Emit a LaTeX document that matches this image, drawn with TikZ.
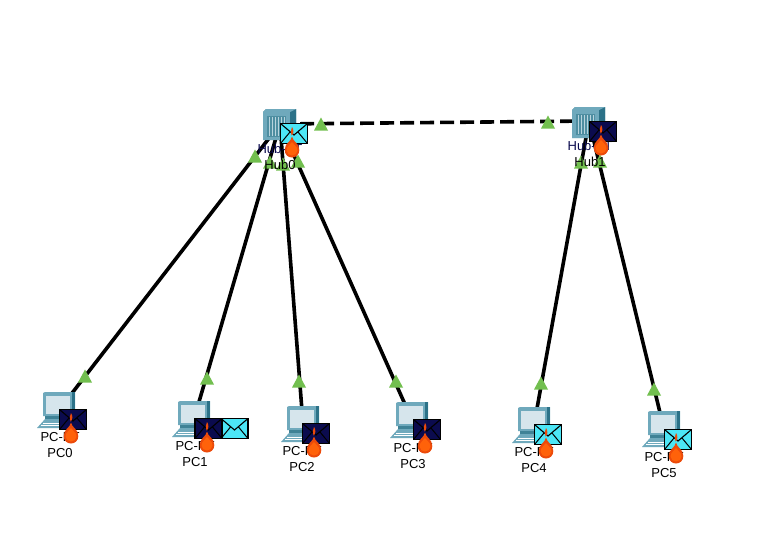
\documentclass[tikz,border=0pt]{standalone}
\usepackage{fontspec}
\setmainfont{Liberation Sans}
\definecolor{envcyan}{HTML}{4CE6F6}
\definecolor{envnavy}{HTML}{0B0B4E}
\definecolor{tri}{HTML}{72BF4F}
\definecolor{tealA}{HTML}{6FA9BC}
\definecolor{tealB}{HTML}{3F8296}
\definecolor{tealC}{HTML}{2C7288}
\definecolor{scr}{HTML}{D6E5EC}
\definecolor{flameA}{HTML}{EC4A0A}
\definecolor{flameB}{HTML}{FF620A}
\tikzset{
  x=1pt,y=-1pt,
  link/.style={line width=3.6pt,black},
  dashlink/.style={link,dash pattern=on 14pt off 6pt},
  devlabel/.style={font=\fontsize{13}{15}\selectfont,inner sep=0pt,text=black},
  anchorpt/.style={inner sep=0pt,minimum size=0pt},
  envbox/.style={draw=black,line width=1.5pt},
}
% green triangle centred on (#1,#2)
\newcommand{\Tri}[2]{\fill[tri] (#1-7,#2+6.5) -- (#1,#2-6.5) -- (#1+7,#2+6.5) -- cycle;}
% envelope with top-left corner (#1,#2), fill #3
\newcommand{\Env}[3]{%
  \begin{scope}[shift={(#1,#2)}]
    \fill[#3] (0,0) rectangle (27,20);
    \draw[black,line width=1.1pt] (0,0) -- (13.5,11.5) -- (27,0);
    \draw[black,line width=1pt] (0,20) -- (9.5,8.5) (27,20) -- (17.5,8.5);
    \draw[envbox] (0,0) rectangle (27,20);
  \end{scope}}
% flame: centre x #1, top of small drop #2
\newcommand{\Flame}[2]{%
  \begin{scope}[shift={(#1,#2)}]
    \fill[flameA] (0,0) .. controls (2,2.5) and (1.8,7) .. (-0.5,8.5) .. controls (-2,6) and (-1,2.5) .. (0,0) -- cycle;
    \fill[flameA] (0,9.5) .. controls (1,15) and (7.3,16) .. (7.3,23) .. controls (7.3,28) and (3.5,30.5) .. (0,30.5)
      .. controls (-3.5,30.5) and (-7.3,28) .. (-7.3,23) .. controls (-7.3,16) and (-1,15) .. (0,9.5) -- cycle;
    \fill[flameB] (0,15) .. controls (1.5,18) and (5.5,19) .. (5.5,23.5) .. controls (5.5,26.5) and (2.5,28.5) .. (0,28.5)
      .. controls (-2.5,28.5) and (-5.5,26.5) .. (-5.5,23.5) .. controls (-5.5,19) and (-1.5,18) .. (0,15) -- cycle;
  \end{scope}}
% PC icon, monitor top-left at (#1,#2)
\newcommand{\PCicon}[2]{%
  \begin{scope}[shift={(#1,#2)}]
    \fill[tealA] (0,1) -- (2,0) -- (32,0) -- (32,24) -- (0,24) -- cycle;
    \fill[tealC] (29,0) rectangle (32,26);
    \fill[scr] (3,4) rectangle (27,22);
    \fill[tealB] (2,24) rectangle (30,27);
    \fill[tealA] (2,27) -- (30,27) -- (32,36) -- (-6,36) -- cycle;
    \draw[white,line width=0.5pt] (0,31) -- (26,31) (-2,33.5) -- (27,33.5);
  \end{scope}}
% Hub icon, top-left at (#1,#2)
\newcommand{\Hubicon}[2]{%
  \begin{scope}[shift={(#1,#2)}]
    \fill[tealB] (0,3) -- (3,0) -- (33,0) -- (33,27) -- (27,31) -- (0,31) -- cycle;
    \fill[tealC] (27,3) -- (33,0) -- (33,27) -- (27,31) -- cycle;
    \fill[tealA] (0,3) -- (3,0) -- (33,0) -- (27,3) -- cycle;
    \fill[tealA] (0,3) rectangle (27,31);
    \fill[tealB!70!tealA] (4,7) rectangle (23,28);
    \foreach \k in {6,9,12,15,18,21} {\draw[tealA!50!white,line width=0.8pt] (\k,8) -- (\k,27);}
  \end{scope}}
\begin{document}
\begin{tikzpicture}
\useasboundingbox (0,0) rectangle (767,536);
\fill[white] (0,0) rectangle (767,536);
% connection points of the devices
\node[anchorpt] (hub0) at (280,124) {};
\node[anchorpt] (hub1) at (589,121) {};
\node[anchorpt] (pc0) at (59,410) {};
\node[anchorpt] (pc1) at (194,419) {};
\node[anchorpt] (pc2) at (303,424) {};
\node[anchorpt] (pc3) at (412,420) {};
\node[anchorpt] (pc4) at (534,425) {};
\node[anchorpt] (pc5) at (664,429) {};
% links
\draw[link] (hub0) -- (pc0);
\draw[link] (hub0) -- (pc1);
\draw[link] (hub0) -- (pc2);
\draw[link] (hub0) -- (pc3);
\draw[link] (hub1) -- (pc4);
\draw[link] (hub1) -- (pc5);
\draw[dashlink] (hub0) -- (hub1);
% link lights
\Tri{321}{124}\Tri{548}{122}
\Tri{255}{156}\Tri{270}{162}\Tri{283}{164}\Tri{298}{161}
\Tri{581}{162}\Tri{600}{161}
\Tri{85}{376}\Tri{207}{378}\Tri{299}{381}\Tri{396}{381}\Tri{541}{383}\Tri{654}{389}
% devices
\Hubicon{263}{109}
\Hubicon{572}{107}
\PCicon{43}{392}
\PCicon{178}{401}
\PCicon{287}{406}
\PCicon{396}{402}
\PCicon{518}{407}
\PCicon{648}{411}
% labels
\node[devlabel,text=envnavy] (hub0t) at (280,149) {Hub-PT};
\node[devlabel] (hub0n) at (280,165) {Hub0};
\node[devlabel,text=envnavy] (hub1t) at (590,146) {Hub-PT};
\node[devlabel] (hub1n) at (590,162) {Hub1};
\node[devlabel] (pc0t) at (60,437) {PC-PT};
\node[devlabel] (pc0n) at (60,453) {PC0};
\node[devlabel] (pc1t) at (195,446) {PC-PT};
\node[devlabel] (pc1n) at (195,462) {PC1};
\node[devlabel] (pc2t) at (302,451) {PC-PT};
\node[devlabel] (pc2n) at (302,467) {PC2};
\node[devlabel] (pc3t) at (413,448) {PC-PT};
\node[devlabel] (pc3n) at (413,464) {PC3};
\node[devlabel] (pc4t) at (534,452) {PC-PT};
\node[devlabel] (pc4n) at (534,468) {PC4};
\node[devlabel] (pc5t) at (664,457) {PC-PT};
\node[devlabel] (pc5n) at (664,473) {PC5};
% envelopes
\Env{280.5}{123.5}{envcyan}
\Env{589.5}{121.5}{envnavy}
\Env{59.5}{409.5}{envnavy}
\Env{221}{418.5}{envcyan}
\Env{195}{418.5}{envnavy}
\Env{302.5}{423.5}{envnavy}
\Env{413.5}{419.5}{envnavy}
\Env{534.5}{424.5}{envcyan}
\Env{664.5}{429.5}{envcyan}
% flames
\Flame{292}{127}
\Flame{601}{125}
\Flame{71}{413}
\Flame{207}{422}
\Flame{314}{427}
\Flame{425}{423}
\Flame{546}{428}
\Flame{676}{433}
\end{tikzpicture}
\end{document}
